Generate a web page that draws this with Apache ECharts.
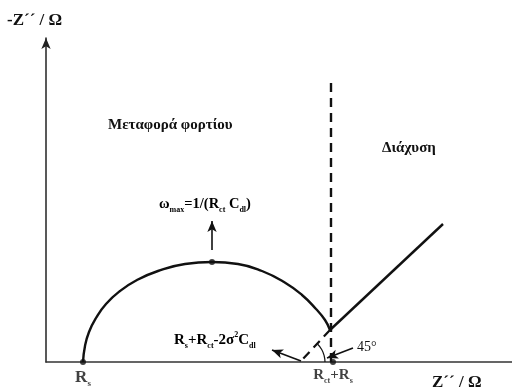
<!DOCTYPE html>
<html>
<head>
<meta charset="utf-8">
<script src="https://cdn.jsdelivr.net/npm/echarts@6/dist/echarts.min.js"></script>
<style>
  html, body { margin: 0; padding: 0; background: #fff; }
  #chart { width: 512px; height: 390px; }
</style>
</head>
<body>
<div id="chart"></div>
<script>
// Nyquist diagram of a Randles cell (axis units: 1 unit = 10 Ω)
const rsValue = 3.7;          // R_s intercept
const rctRsValue = 28.7;      // R_ct + R_s intercept

// charge-transfer semicircle
const arcX = [3.7, 3.9, 4.3, 5.0, 6.0, 7.4, 9.1, 11.2, 13.9, 16.6, 19.2, 21.6, 23.8, 25.6, 27.0, 27.9, 28.4];
const arcY = [0.0, 1.6, 3.0, 4.4, 5.8, 7.1, 8.2, 9.1, 9.8, 10.0, 9.8, 9.1, 8.0, 6.7, 5.3, 4.2, 3.2];

// diffusion (Warburg) branch and its extrapolation to the real axis
const warburgX = [28.4, 39.7];
const warburgY = [3.2, 13.8];
const extrapX = [28.4, 25.4];
const extrapY = [3.2, 0.0];

// vertical asymptote at R_ct + R_s
const asymX = [28.5, 28.5];
const asymY = [0.0, 28.4];

// 45° angle mark
const angleX = [27.9, 27.81, 27.57, 27.17];
const angleY = [0.0, 0.65, 1.25, 1.77];

// apex of the semicircle (ω_max)
const apex = [16.6, 10.0];

// annotation arrows [from, to]
const arrowOmega = [[16.6, 11.2], [16.6, 14.1]];
const arrowIntercept = [[25.5, 0.1], [22.6, 1.2]];
const arrowAngle = [[30.7, 1.4], [28.1, 0.4]];

const SERIF = "'Liberation Serif', 'Times New Roman', serif";
const INK = '#111';

const zip = (xs, ys) => xs.map((x, i) => [x, ys[i]]);

const subRich = (size) => ({
  t: { fontFamily: SERIF, fontWeight: 'bold', fontSize: size, color: INK, lineHeight: size + 4 },
  sub: { fontFamily: SERIF, fontWeight: 'bold', fontSize: Math.round(size * 0.55), color: INK,
         verticalAlign: 'bottom', lineHeight: Math.round(size * 0.55) + 1 },
  sup: { fontFamily: SERIF, fontWeight: 'bold', fontSize: Math.round(size * 0.55), color: INK,
         verticalAlign: 'top', lineHeight: Math.round(size * 0.55) + 4 }
});

const chart = echarts.init(document.getElementById('chart'));

function arrowLine(pair) {
  return {
    type: 'line', data: [], silent: true,
    markLine: {
      silent: true, animation: false,
      symbol: ['none', 'arrow'], symbolSize: [7, 11],
      label: { show: false },
      lineStyle: { color: INK, width: 1.6, type: 'solid' },
      data: [[{ coord: pair[0] }, { coord: pair[1] }]]
    }
  };
}

chart.setOption({
  animation: false,
  backgroundColor: '#fff',
  grid: { left: 46, top: 38, width: 466, height: 324, containLabel: false },
  xAxis: {
    type: 'value', min: 0, max: 46.6,
    axisLine: { show: true, lineStyle: { color: '#333', width: 1.5 } },
    axisTick: { show: false }, axisLabel: { show: false }, splitLine: { show: false }
  },
  yAxis: {
    type: 'value', min: 0, max: 32.4,
    axisLine: { show: true, symbol: ['none', 'arrow'], symbolSize: [7, 11], symbolOffset: [0, 0],
                lineStyle: { color: '#222', width: 1.5 } },
    axisTick: { show: false }, axisLabel: { show: false }, splitLine: { show: false }
  },
  graphic: [
    { type: 'text', left: 7, top: 12,
      style: { text: '-Z´´ / Ω', font: `bold 17px ${SERIF}`, fill: INK } },
    { type: 'text', left: 432, top: 374,
      style: { text: 'Z´´ / Ω', font: `bold 17px ${SERIF}`, fill: INK } },
    { type: 'text', left: 108, top: 118,
      style: { text: 'Μεταφορά φορτίου', font: `bold 15px ${SERIF}`, fill: INK } },
    { type: 'text', left: 382, top: 141,
      style: { text: 'Διάχυση', font: `bold 15px ${SERIF}`, fill: INK } },
    { type: 'text', left: 159, top: 197,
      style: { text: '{t|ω}{sub|max}{t|=1/(R}{sub|ct}{t| C}{sub|dl}{t|)}', rich: subRich(14.5) } },
    { type: 'text', left: 174, top: 331,
      style: { text: '{t|R}{sub|s}{t|+R}{sub|ct}{t|-2σ}{sup|2}{t|C}{sub|dl}', rich: subRich(15) } },
    { type: 'text', left: 357, top: 340,
      style: { text: '45°', font: `14px ${SERIF}`, fill: INK } }
  ],
  series: [
    { type: 'line', data: zip(arcX, arcY), smooth: true, symbol: 'none',
      lineStyle: { color: INK, width: 2.4 } },
    { type: 'line', data: zip(warburgX, warburgY), symbol: 'none',
      lineStyle: { color: INK, width: 2.4 } },
    { type: 'line', data: zip(extrapX, extrapY), symbol: 'none',
      lineStyle: { color: INK, width: 2.2, type: [9, 6] } },
    { type: 'line', data: zip(asymX, asymY), symbol: 'none',
      lineStyle: { color: INK, width: 2.4, type: [9, 6] } },
    { type: 'line', data: zip(angleX, angleY), smooth: true, symbol: 'none',
      lineStyle: { color: INK, width: 1.2 } },
    { type: 'scatter', symbolSize: 6, itemStyle: { color: INK },
      data: [
        { value: [rsValue, 0], label: { show: true, position: 'bottom', distance: 2,
          formatter: '{t|R}{sub|s}', rich: subRich(17) } },
        { value: [rctRsValue, 0], label: { show: true, position: 'bottom', distance: 1,
          formatter: '{t|R}{sub|ct}{t|+R}{sub|s}', rich: subRich(15) } },
        { value: apex }
      ] },
    arrowLine(arrowOmega),
    arrowLine(arrowIntercept),
    arrowLine(arrowAngle)
  ]
});
</script>
</body>
</html>
